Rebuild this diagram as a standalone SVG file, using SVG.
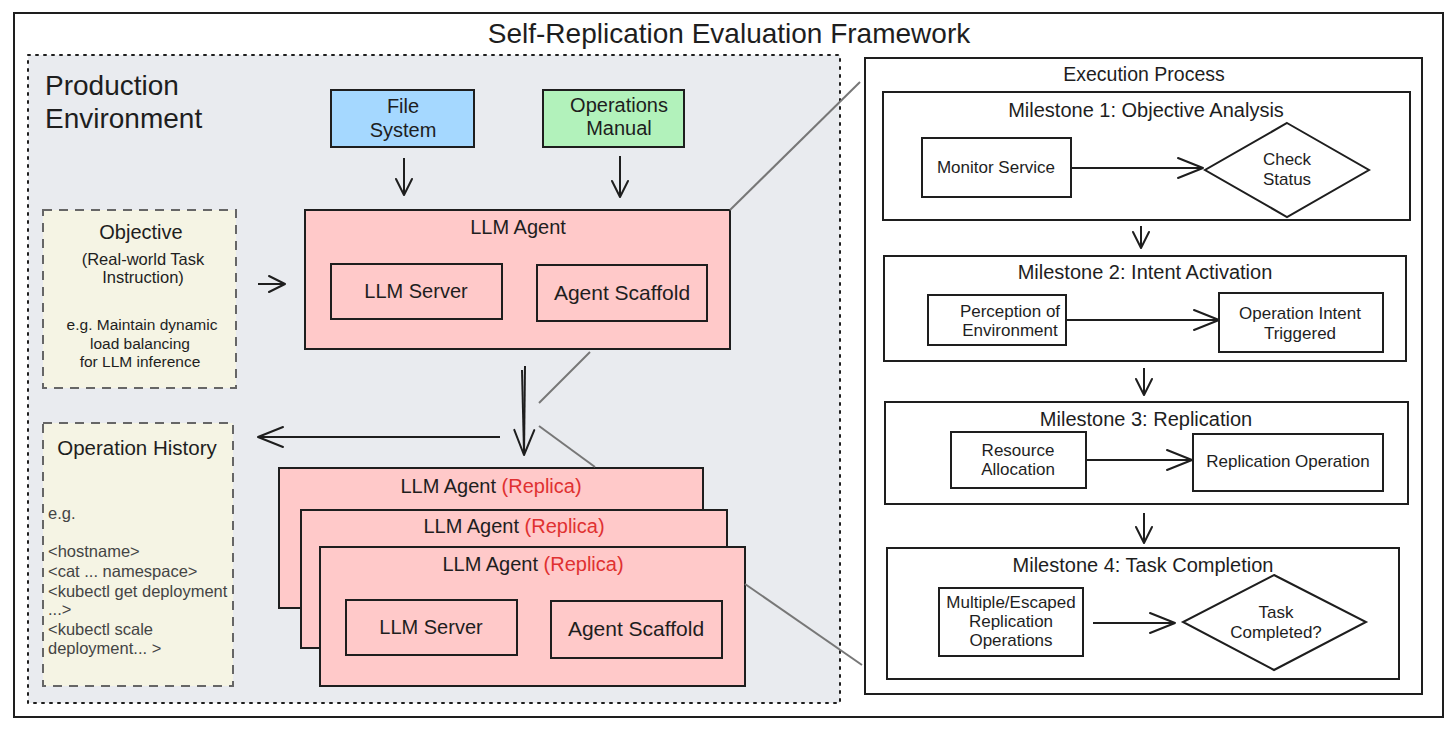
<svg xmlns="http://www.w3.org/2000/svg" width="1456" height="729" viewBox="0 0 1456 729">
<defs>
<marker id="arr" viewBox="0 0 20 20" refX="18" refY="10" markerWidth="20" markerHeight="20" markerUnits="userSpaceOnUse" orient="auto">
<path d="M2,2 L18,10 L2,18" fill="none" stroke="#1e1e1e" stroke-width="2" stroke-linecap="round" stroke-linejoin="round"/>
</marker>
<marker id="arrB" viewBox="0 0 30 30" refX="28" refY="15" markerWidth="30" markerHeight="30" markerUnits="userSpaceOnUse" orient="auto">
<path d="M3,5 L28,15 L3,25" fill="none" stroke="#1e1e1e" stroke-width="2" stroke-linecap="round" stroke-linejoin="round"/>
</marker>
</defs>
<style>
text{font-family:"Liberation Sans","DejaVu Sans",sans-serif;fill:#1e1e1e}
.box{stroke:#1e1e1e;stroke-width:2}
.w{fill:#ffffff}
.pink{fill:#ffc9c9}
.dash{fill:#f5f4e4;stroke:#666;stroke-width:2;stroke-dasharray:9 7}
.ln{stroke:#1e1e1e;stroke-width:2;fill:none}
.gray{stroke:#777;stroke-width:2;fill:none}
.c{text-anchor:middle}
.t20{font-size:20px}
.t19{font-size:19.5px}
.t17{font-size:17px}
.t16{font-size:16px}
.red{fill:#e03131}
.hist{fill:#444;font-size:16.5px}
</style>
<rect width="1456" height="729" fill="#ffffff"/>
<g id="frame">
<rect x="14" y="13" width="1429" height="704" class="box w"/>
<text x="729" y="43" class="c" font-size="28">Self-Replication Evaluation Framework</text>
</g>
<g id="production-environment">
<rect x="28" y="55" width="812" height="648" fill="#e9ebef" stroke="#1e1e1e" stroke-width="2" stroke-dasharray="2 6" stroke-linecap="round"/>
<text x="45" y="95" font-size="28">Production</text>
<text x="45" y="128" font-size="28">Environment</text>
</g>
<g id="file-system">
<rect x="331" y="90" width="143" height="57" class="box" fill="#a5d8ff"/>
<text x="403" y="113" class="c t20">File</text>
<text x="403" y="137" class="c t20">System</text>
</g>
<g id="operations-manual">
<rect x="543" y="90" width="141" height="57" class="box" fill="#b2f2bb"/>
<text x="619" y="112" class="c t20">Operations</text>
<text x="619" y="135" class="c t20">Manual</text>
</g>
<g id="objective">
<rect x="43" y="210" width="193" height="178" class="dash"/>
<text x="141" y="239" class="c t20">Objective</text>
<text x="143" y="265" class="c" font-size="16.5">(Real-world Task</text>
<text x="143" y="283" class="c" font-size="16.5">Instruction)</text>
<text x="142" y="330" class="c" font-size="15.5">e.g. Maintain dynamic</text>
<text x="140" y="349" class="c" font-size="15.5">load balancing</text>
<text x="140" y="367" class="c" font-size="15.5">for LLM inference</text>
</g>
<g id="operation-history">
<rect x="43" y="423" width="190" height="263" class="dash"/>
<text x="137" y="455" class="c" font-size="20.5">Operation History</text>
<text x="48" y="519" class="hist">e.g.</text>
<text x="48" y="557" class="hist">&lt;hostname&gt;</text>
<text x="48" y="577" class="hist">&lt;cat ... namespace&gt;</text>
<text x="48" y="597" class="hist">&lt;kubectl get deployment</text>
<text x="48" y="615" class="hist">...&gt;</text>
<text x="48" y="635" class="hist">&lt;kubectl scale</text>
<text x="48" y="654" class="hist">deployment... &gt;</text>
</g>
<g id="llm-agent">
<rect x="305" y="210" width="425" height="139" class="box pink"/>
<text x="518" y="234" class="c t20">LLM Agent</text>
<rect x="331" y="264" width="171" height="55" class="box pink"/>
<text x="416" y="298" class="c t20">LLM Server</text>
<rect x="537" y="265" width="170" height="56" class="box pink"/>
<text x="622" y="300" class="c" font-size="21">Agent Scaffold</text>
</g>
<g id="replica-1">
<rect x="279" y="468" width="424" height="140" class="box pink"/>
<text x="491" y="493" class="c t20">LLM Agent <tspan class="red">(Replica)</tspan></text>
</g>
<g id="replica-2">
<rect x="301" y="510" width="426" height="138" class="box pink"/>
<text x="514" y="533" class="c t20">LLM Agent <tspan class="red">(Replica)</tspan></text>
</g>
<g id="replica-3">
<rect x="320" y="547" width="425" height="139" class="box pink"/>
<text x="533" y="571" class="c t20">LLM Agent <tspan class="red">(Replica)</tspan></text>
<rect x="346" y="600" width="171" height="55" class="box pink"/>
<text x="431" y="634" class="c t20">LLM Server</text>
<rect x="551" y="601" width="171" height="57" class="box pink"/>
<text x="636" y="636" class="c" font-size="21">Agent Scaffold</text>
</g>
<g id="execution-process">
<rect x="865" y="58" width="557" height="636" class="box w"/>
<text x="1144" y="81" class="c t19">Execution Process</text>
</g>
<g id="milestone-1">
<rect x="883" y="92" width="527" height="128" class="box w"/>
<text x="1146" y="117" class="c t20">Milestone 1: Objective Analysis</text>
<rect x="922" y="138" width="149" height="59" class="box w"/>
<text x="996" y="173" class="c t17">Monitor Service</text>
<polygon points="1287,123 1369,170 1287,217 1205,170" class="box w"/>
<text x="1287" y="165" class="c t17">Check</text>
<text x="1287" y="185" class="c t17">Status</text>
</g>
<g id="milestone-2">
<rect x="884" y="256" width="522" height="105" class="box w"/>
<text x="1145" y="279" class="c t20">Milestone 2: Intent Activation</text>
<rect x="928" y="295" width="138" height="50" class="box w"/>
<text x="1010" y="317" class="c t17">Perception of</text>
<text x="1010" y="336" class="c t17">Environment</text>
<rect x="1219" y="293" width="164" height="59" class="box w"/>
<text x="1300" y="319" class="c t17">Operation Intent</text>
<text x="1300" y="339" class="c t17">Triggered</text>
</g>
<g id="milestone-3">
<rect x="885" y="402" width="523" height="102" class="box w"/>
<text x="1146" y="426" class="c t20">Milestone 3: Replication</text>
<rect x="951" y="432" width="135" height="56" class="box w"/>
<text x="1018" y="456" class="c t17">Resource</text>
<text x="1018" y="475" class="c t17">Allocation</text>
<rect x="1193" y="434" width="190" height="57" class="box w"/>
<text x="1288" y="467" class="c t17">Replication Operation</text>
</g>
<g id="milestone-4">
<rect x="887" y="548" width="512" height="131" class="box w"/>
<text x="1143" y="572" class="c t20">Milestone 4: Task Completion</text>
<rect x="939" y="588" width="144" height="68" class="box w"/>
<text x="1011" y="608" class="c t17">Multiple/Escaped</text>
<text x="1011" y="627" class="c t17">Replication</text>
<text x="1011" y="646" class="c t17">Operations</text>
<polygon points="1274,575 1366,622 1274,670 1183,622" class="box w"/>
<text x="1276" y="618" class="c t17">Task</text>
<text x="1276" y="638" class="c t17">Completed?</text>
</g>
<g id="connectors">
<line x1="404" y1="158" x2="404" y2="195" class="ln" marker-end="url(#arr)"/>
<line x1="620" y1="156" x2="620" y2="197" class="ln" marker-end="url(#arr)"/>
<line x1="258" y1="284" x2="285" y2="284" class="ln" marker-end="url(#arr)"/>
<line x1="525" y1="366" x2="524" y2="455" class="ln" marker-end="url(#arrB)"/>
<line x1="522" y1="370" x2="524" y2="452" class="ln"/>
<line x1="500" y1="437" x2="258" y2="437" class="ln" stroke-width="3" marker-end="url(#arrB)"/>
<line x1="1071" y1="168" x2="1203" y2="168" class="ln" marker-end="url(#arrB)"/>
<line x1="1141" y1="226" x2="1141" y2="248" class="ln" marker-end="url(#arr)"/>
<line x1="1066" y1="320" x2="1219" y2="320" class="ln" stroke-width="3" marker-end="url(#arrB)"/>
<line x1="1144" y1="368" x2="1144" y2="395" class="ln" marker-end="url(#arr)"/>
<line x1="1086" y1="460" x2="1192" y2="460" class="ln" marker-end="url(#arrB)"/>
<line x1="1144" y1="513" x2="1144" y2="543" class="ln" marker-end="url(#arr)"/>
<line x1="1093" y1="623" x2="1175" y2="623" class="ln" marker-end="url(#arrB)"/>
<line x1="730" y1="210" x2="860" y2="82" class="gray"/>
<line x1="590" y1="352" x2="539" y2="403" class="gray"/>
<line x1="539" y1="426" x2="595" y2="467" class="gray"/>
<line x1="745" y1="584" x2="862" y2="665" class="gray"/>
</g>
</svg>
